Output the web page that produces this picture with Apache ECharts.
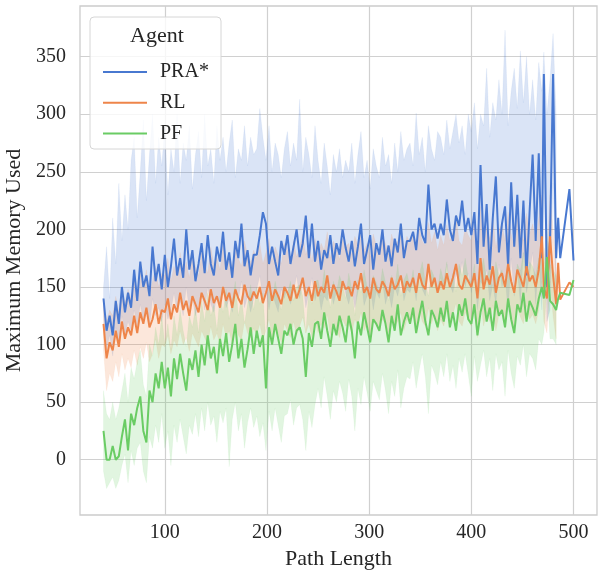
<!DOCTYPE html>
<html>
<head>
<meta charset="utf-8">
<script src="https://cdn.jsdelivr.net/npm/echarts@6/dist/echarts.min.js"></script>
<style>html,body{margin:0;padding:0;background:#fff;}#c{width:598px;height:575px;}</style>
</head>
<body>
<div id="c"></div>
<script>
const pathLen = [40,43,46,49,52,55,58,61,64,67,
70,73,76,79,82,85,88,91,94,97,
100,103,106,109,112,115,118,121,124,127,
130,133,136,139,142,145,148,151,154,157,
160,163,166,169,172,175,178,181,184,187,
190,193,196,199,202,205,208,211,214,217,
220,223,226,229,232,235,238,241,244,247,
250,253,256,259,262,265,268,271,274,277,
280,283,286,289,292,295,298,301,304,307,
310,313,316,319,322,325,328,331,334,337,
340,343,346,349,352,355,358,361,364,367,
370,373,376,379,382,385,388,391,394,397,
400,403,406,409,412,415,418,421,424,427,
430,433,436,439,442,445,448,451,454,457,
460,463,466,
469,471,474,477,480,483,485,487,496,500];

const praMean = [140,112,125,108,138,118,150,128,145,132,
165,138,172,150,160,142,185,155,170,148,
178,150,168,192,160,175,158,200,165,182,
155,170,188,162,195,170,160,185,172,198,
165,180,158,190,175,205,168,182,160,178,
178,195,215,205,170,185,172,160,190,178,
195,170,185,200,176,188,212,175,205,172,
190,165,182,175,195,170,188,178,200,184,
172,190,168,185,205,170,182,195,165,188,
178,200,172,186,168,192,180,205,175,190,
190,198,182,210,195,188,239,200,205,192,
205,195,226,200,190,212,203,225,198,210,
195,215,170,256,185,222,165,210,246,180,
205,220,168,241,185,230,175,225,160,215,
265,190,266,
175,335,150,190,335,175,210,175,235,173];
const praHi = [150,185,140,210,170,240,190,230,200,260,
280,210,250,295,225,265,300,240,280,255,
290,230,270,250,300,240,275,260,290,235,
265,285,245,300,255,270,240,290,260,280,
250,275,295,245,270,260,290,255,280,265,
270,305,280,260,290,250,275,265,245,270,
285,255,275,260,313,250,280,265,245,290,
260,240,275,255,230,265,250,270,245,260,
250,275,240,265,285,245,260,235,270,255,
245,280,255,265,240,275,250,285,260,270,
275,255,301,265,280,250,290,270,260,285,
280,265,295,270,285,300,275,290,265,300,
285,310,270,300,290,340,280,310,295,330,
300,373,290,320,340,305,355,310,350,300,
330,295,345,
320,354,300,330,370,300,null,null,null,null];
const praLo = [125,95,108,90,115,100,125,108,120,112,
130,115,135,120,128,115,140,125,132,120,
135,122,130,145,128,138,125,150,130,140,
125,135,145,130,150,135,128,142,135,150,
132,140,128,148,138,155,132,142,128,140,
148,160,138,150,130,145,136,128,148,140,
150,135,145,160,140,155,132,145,158,138,
148,130,142,138,150,135,146,140,155,144,
135,148,132,145,158,134,142,152,130,146,
140,155,135,146,132,150,142,158,138,148,
145,155,138,162,148,142,165,150,155,145,
158,148,170,152,145,162,155,172,150,162,
145,162,130,155,150,165,138,152,135,170,
150,160,128,175,142,165,135,180,145,160,
180,135,175,
130,250,120,130,240,130,null,null,null,null];

const rlMean = [118,88,102,95,112,98,120,105,115,108,
125,110,128,118,132,115,122,135,118,130,
128,140,122,135,128,145,130,138,125,142,
135,128,145,138,130,148,136,142,132,150,
138,145,132,148,140,135,152,142,138,146,
140,150,136,145,155,138,148,142,135,150,
145,138,152,140,148,158,142,150,138,155,
142,150,145,160,140,152,146,138,155,148,
150,142,155,148,162,145,150,140,158,148,
145,155,150,142,158,148,152,160,145,155,
150,158,145,162,152,148,170,150,158,145,
155,148,162,150,158,170,152,148,160,155,
150,162,140,175,148,160,152,168,145,158,
162,150,170,155,145,165,158,150,168,155,
160,150,165,
194,150,140,194,160,135,171,139,154,150];
const rlHi = [140,120,130,125,142,128,150,135,148,140,
158,140,162,150,165,145,155,168,150,162,
160,175,155,168,160,180,162,172,158,178,
168,160,180,172,162,185,170,176,165,188,
172,180,165,185,175,168,190,178,172,182,
175,188,170,180,192,172,185,178,170,188,
182,172,190,176,185,196,178,188,172,192,
178,188,182,198,175,190,184,174,192,185,
188,178,194,186,200,182,188,176,196,186,
182,194,188,178,196,186,190,200,182,194,
188,198,182,202,190,186,206,188,198,182,
195,186,204,190,198,212,190,186,202,195,
190,205,178,220,186,202,192,212,184,200,
205,190,215,196,184,210,200,190,214,196,
205,190,210,
230,185,175,230,200,170,null,null,null,null];
const rlLo = [95,60,75,68,85,72,92,78,88,80,
95,82,98,88,102,85,92,105,88,100,
98,108,92,104,98,112,100,106,94,110,
104,98,112,106,100,116,104,110,100,118,
106,112,100,116,108,104,120,110,106,114,
108,118,104,112,122,106,116,110,102,118,
112,106,120,108,116,124,110,118,106,122,
110,118,114,126,108,120,114,106,122,116,
118,110,122,116,128,112,118,108,124,116,
112,122,118,110,126,116,120,128,112,122,
118,126,112,130,120,116,132,118,126,112,
122,116,130,118,126,136,120,116,128,122,
116,130,106,140,116,128,120,134,112,126,
130,118,136,122,112,132,124,118,134,122,
126,118,130,
155,120,110,155,125,105,null,null,null,null];

const pfMean = [25,0,0,12,0,3,20,35,8,40,
30,45,55,25,15,60,50,75,62,85,
62,80,55,88,70,92,75,60,88,78,
95,72,100,82,108,88,98,75,105,90,
110,85,100,118,88,105,80,96,115,92,
112,98,108,62,115,100,118,105,92,112,
108,118,100,112,115,105,72,110,98,118,
120,105,128,112,98,118,108,125,115,102,
125,112,88,120,108,128,115,102,122,118,
112,130,118,102,125,112,135,108,120,128,
118,132,110,125,138,120,108,130,124,115,
132,120,138,115,128,112,135,125,140,122,
118,135,108,128,140,120,132,112,138,125,
130,115,140,122,110,135,128,145,120,138,
132,125,140,
150,140,176,138,135,130,140,145,143,156];
const pfHi = [60,40,35,50,35,45,60,75,50,80,
70,85,95,65,55,100,90,115,100,125,
100,118,95,125,108,130,112,98,125,115,
132,110,138,120,145,125,135,112,142,128,
148,122,138,155,125,142,118,135,152,130,
150,135,145,100,152,138,155,142,130,150,
145,155,138,150,152,142,110,148,135,155,
156,142,165,148,132,155,145,160,152,140,
162,148,125,156,145,165,150,140,160,154,
146,166,154,138,160,148,170,142,156,162,
150,165,144,160,172,154,142,165,158,148,
166,155,172,150,162,146,170,160,175,158,
154,170,142,164,175,156,168,148,172,160,
165,150,175,158,146,170,164,180,156,172,
168,160,175,
175,170,200,170,165,160,null,null,null,null];
const pfLo = [-10,-25,-20,-15,-25,-18,-5,5,-20,8,
-5,10,15,-10,-20,20,10,30,15,40,
10,25,-5,30,15,35,20,5,30,22,
40,20,45,25,50,30,38,15,42,32,
45,-6,35,50,25,40,10,32,45,28,
38,20,32,8,42,25,45,30,15,38,
40,52,30,45,48,35,8,42,28,48,
62,45,72,55,35,60,50,68,58,42,
70,55,25,62,48,72,58,42,68,60,
52,75,60,40,68,55,78,45,62,72,
70,85,62,78,92,72,40,82,75,65,
85,72,92,68,82,62,88,76,92,74,
55,90,68,82,95,72,88,60,92,78,
85,55,95,75,62,90,82,100,72,92,
88,78,105,
100,110,150,105,105,100,null,null,null,null];

const xTicks = [100,200,300,400,500];
const yTicks = [0,50,100,150,200,250,300,350];
const agents = ['PRA*','RL','PF'];
const colors = ['#4878d0','#ee854a','#6acc64'];

const FONT = "'Liberation Serif','Times New Roman',serif";
const TXT = '#262626';
const LEGEND_LINE = 'path://M0,0H44V2H0Z';

function lineSeries(name, ys, color) {
  return {
    type: 'line', name: name, symbol: 'none', showSymbol: false,
    data: pathLen.map((x, i) => [x, ys[i]]),
    lineStyle: { color: color, width: 2 },
    itemStyle: { color: color },
    emphasis: { disabled: true },
    animation: false
  };
}
function bandSeries(name, lo, hi, color) {
  const idx = [];
  for (let i = 0; i < pathLen.length; i++) if (lo[i] != null && hi[i] != null) idx.push(i);
  return {
    type: 'custom', name: name, silent: true, animation: false,
    data: idx.map(i => [pathLen[i], lo[i], hi[i]]),
    encode: { x: 0, y: [1, 2] },
    clip: true,
    renderItem: function (params, api) {
      if (params.dataIndex !== 0) return null;
      const top = [], bot = [];
      idx.forEach(i => {
        top.push(api.coord([pathLen[i], hi[i]]));
        bot.push(api.coord([pathLen[i], lo[i]]));
      });
      return {
        type: 'polygon',
        shape: { points: top.concat(bot.reverse()) },
        style: { fill: color, opacity: 0.2, stroke: color, lineWidth: 0.6, strokeOpacity: 0.5 }
      };
    }
  };
}

const chart = echarts.init(document.getElementById('c'), null, { renderer: 'canvas' });
chart.setOption({
  backgroundColor: '#ffffff',
  animation: false,
  grid: { left: 80, right: 1, top: 6, bottom: 60, show: true, outerBoundsMode: 'none', containLabel: false,
    borderColor: '#cccccc', borderWidth: 1.3, backgroundColor: 'transparent' },
  xAxis: {
    type: 'value', min: 17, max: 523,
    name: 'Path Length', nameLocation: 'middle', nameGap: 31,
    nameTextStyle: { fontFamily: FONT, fontSize: 22, color: TXT },
    axisLine: { show: false }, axisTick: { show: false, customValues: xTicks },
    axisLabel: { customValues: xTicks, fontFamily: FONT, fontSize: 20, color: TXT, margin: 8 },
    splitLine: { show: true, lineStyle: { color: '#d0d0d0', width: 1.2 } }
  },
  yAxis: {
    type: 'value', min: -48, max: 394,
    name: 'Maximum Memory Used', nameLocation: 'middle', nameGap: 49,
    nameTextStyle: { fontFamily: FONT, fontSize: 22, color: TXT },
    axisLine: { show: false }, axisTick: { show: false, customValues: yTicks },
    axisLabel: { customValues: yTicks, fontFamily: FONT, fontSize: 20, color: TXT, margin: 14 },
    splitLine: { show: true, lineStyle: { color: '#d0d0d0', width: 1.2 } }
  },
  legend: {
    data: agents.map(a => ({ name: a, icon: LEGEND_LINE })),
    orient: 'vertical', left: 98, top: 57, z: 10,
    itemWidth: 44, itemHeight: 20, itemGap: 10.7, symbolKeepAspect: true,
    textStyle: { fontFamily: FONT, fontSize: 20, color: TXT, padding: [0, 0, 0, 8], lineHeight: 20 },
    selectedMode: false
  },
  graphic: [
    { type: 'rect', z: 9, shape: { x: 90, y: 17, width: 131, height: 132, r: 4 },
      style: { fill: 'rgba(255,255,255,0.8)', stroke: '#d6d6d6', lineWidth: 1 } },
    { type: 'text', z: 10, x: 157, y: 36,
      style: { text: 'Agent', fontFamily: FONT, fontSize: 22, fill: TXT, align: 'center', verticalAlign: 'middle' } }
  ],
  series: [
    lineSeries(agents[0], praMean, colors[0]),
    bandSeries('PRA* band', praLo, praHi, colors[0]),
    lineSeries(agents[1], rlMean, colors[1]),
    bandSeries('RL band', rlLo, rlHi, colors[1]),
    lineSeries(agents[2], pfMean, colors[2]),
    bandSeries('PF band', pfLo, pfHi, colors[2])
  ]
});
</script>
</body>
</html>
